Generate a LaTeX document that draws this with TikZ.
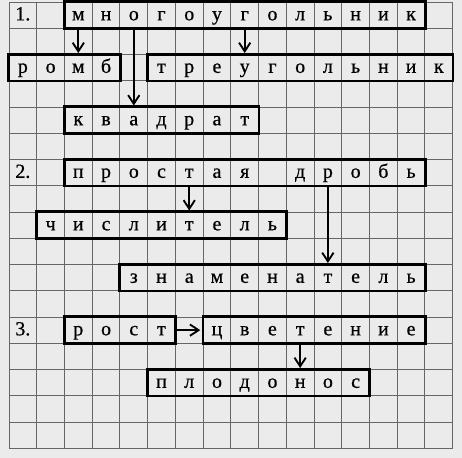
\documentclass[tikz,border=0pt]{standalone}
\usepackage{fontspec}
\setmainfont{Liberation Serif}
\newfontfamily\bukvyfont{Liberation Serif}[FakeBold=0.6]
\usepackage{tikz}
\usetikzlibrary{arrows.meta,fit}
\newcommand{\cellw}{20.8pt}
\newcommand{\cellh}{19.69pt}
\newcommand{\ramka}{2pt}
\definecolor{paper}{gray}{0.92}
\definecolor{setka}{gray}{0.4}
\tikzset{
  bukva/.style = {inner sep=0pt, minimum width=\cellw, minimum height=\cellh,
    font=\bukvyfont\fontsize{15}{17}\selectfont, text height=1.8ex, text depth=0.1ex},
  slovo/.style = {draw=black, line width=\ramka, inner sep=0pt},
  strelka/.style = {line width=1.4pt, -{Straight Barb[length=6.5pt,width=8.5pt]}, shorten >=0.9pt}
}
% letters one per cell: name, first column, row (from the top), letters
\newcommand{\Bukvy}[4]{%
  \foreach \bk [count=\i] in {#4}
    \node[bukva] (#1-\i) at ({#2+\i-0.5},{16.5-#3}) {\bk};
}

\begin{document}
\begin{tikzpicture}[x=\cellw, y=\cellh]
        \useasboundingbox (-0.3246,-0.3695) rectangle (16.336,17.0762);
        \fill[paper] (-0.3246,-0.3695) rectangle (16.336,17.0762);
        \draw[setka, line width=0.7pt, step=1] (0,0) grid (16,17);
        \begin{scope}
            %\draw[help lines] (0,0) grid (16,17);
            \node[bukva] (n1) at (0.5,16.5) {1.};
            \node[bukva] (n2) at (0.5,10.5) {2.};
            \node[bukva] (n3) at (0.5,4.5) {3.};

            \Bukvy{mnog}{2}{0}{м,н,о,г,о,у,г,о,л,ь,н,и,к}
            \Bukvy{romb}{0}{2}{р,о,м,б}
            \Bukvy{treu}{5}{2}{т,р,е,у,г,о,л,ь,н,и,к}
            \Bukvy{kvad}{2}{4}{к,в,а,д,р,а,т}

            \Bukvy{prost}{2}{6}{п,р,о,с,т,а,я,{},д,р,о,б,ь}
            \Bukvy{chisl}{1}{8}{ч,и,с,л,и,т,е,л,ь}
            \Bukvy{znam}{4}{10}{з,н,а,м,е,н,а,т,е,л,ь}

            \Bukvy{rost}{2}{12}{р,о,с,т}
            \Bukvy{cvet}{7}{12}{ц,в,е,т,е,н,и,е}
            \Bukvy{plod}{5}{14}{п,л,о,д,о,н,о,с}

            \node[slovo, fit=(mnog-1)(mnog-13)] (mnog) {};
            \node[slovo, fit=(romb-1)(romb-4)] (romb) {};
            \node[slovo, fit=(treu-1)(treu-11)] (treu) {};
            \node[slovo, fit=(kvad-1)(kvad-7)] (kvad) {};
            \node[slovo, fit=(prost-1)(prost-13)] (prost) {};
            \node[slovo, fit=(chisl-1)(chisl-9)] (chisl) {};
            \node[slovo, fit=(znam-1)(znam-11)] (znam) {};
            \node[slovo, fit=(rost-1)(rost-4)] (rost) {};
            \node[slovo, fit=(cvet-1)(cvet-8)] (cvet) {};
            \node[slovo, fit=(plod-1)(plod-8)] (plod) {};

            \draw[strelka] (mnog-1.south) -- (romb-3.north);
            \draw[strelka] (mnog-3.south) -- (kvad-3.north);
            \draw[strelka] (mnog-7.south) -- (treu-4.north);

            \draw[strelka] (prost-5.south) -- (chisl-6.north);
            \draw[strelka] (prost-10.south) -- (znam-8.north);

            \draw[strelka] (rost.east) -- (cvet.west);
            \draw[strelka] (cvet-4.south) -- (plod-6.north);
        \end{scope}
\end{tikzpicture}
\end{document}
